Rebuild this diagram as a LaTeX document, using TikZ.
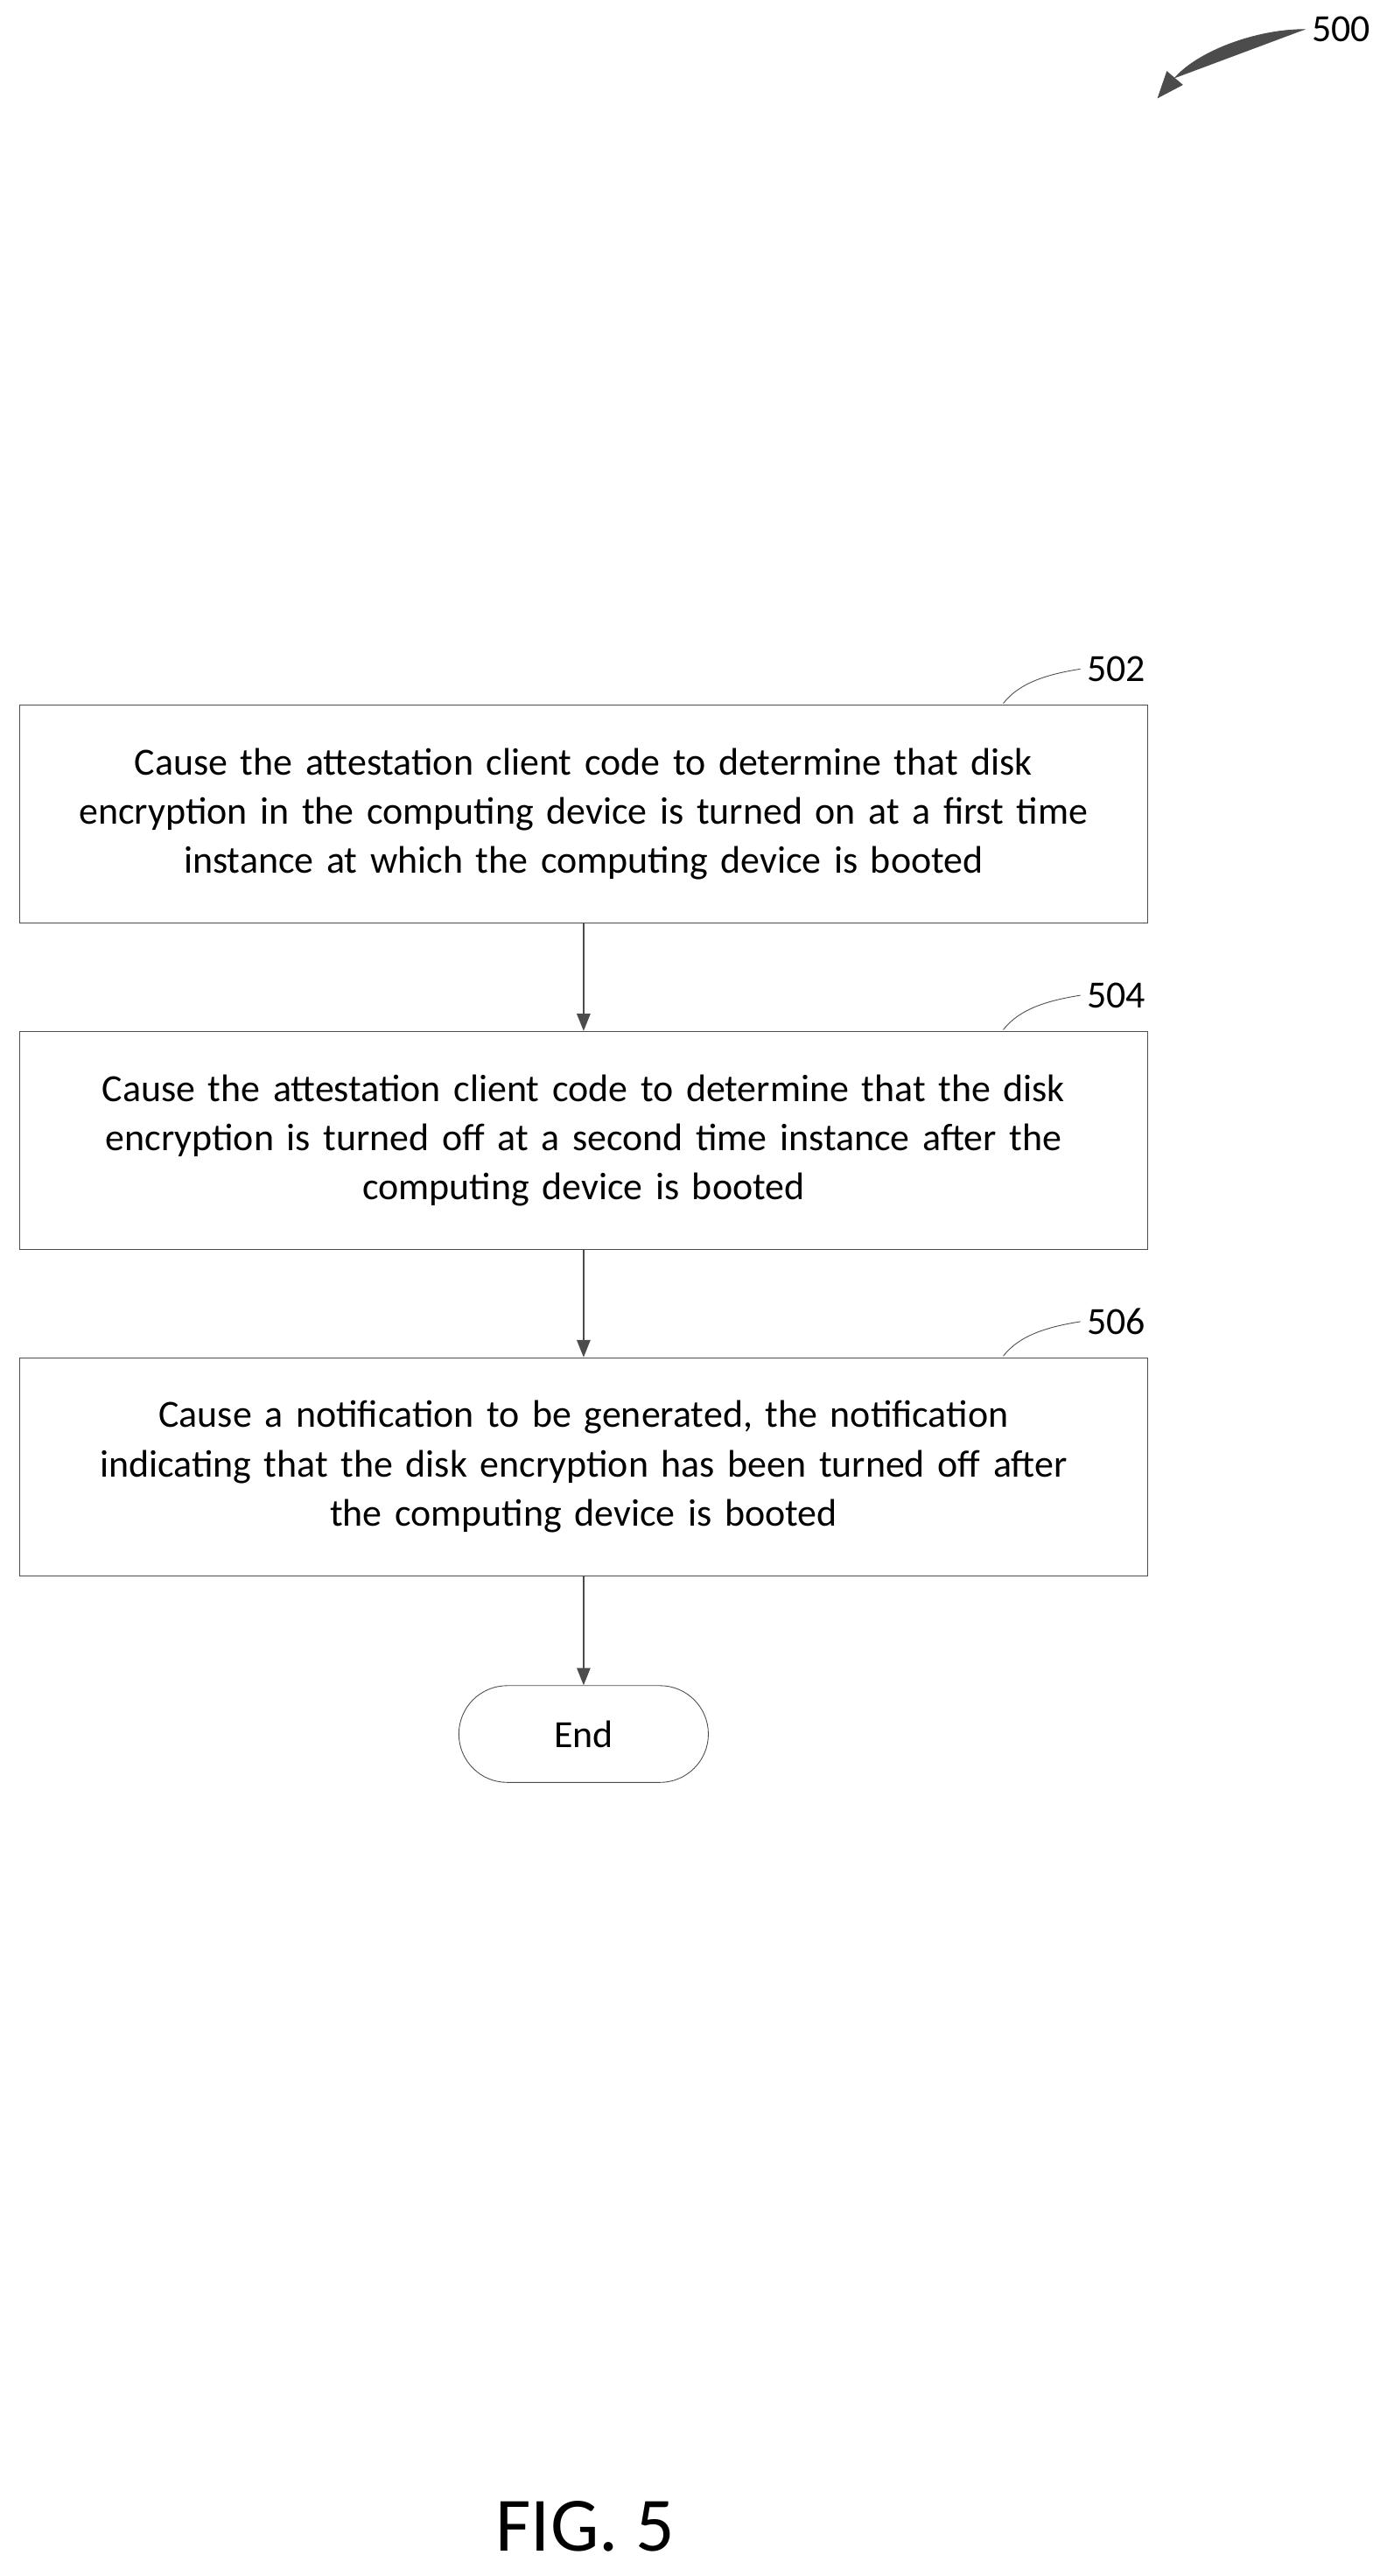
\documentclass[tikz,border=0pt]{standalone}
\usepackage{fontspec}
\setmainfont{Carlito}
\usetikzlibrary{positioning,arrows.meta,shapes.misc}
\tikzset{
  stepbox/.style={draw=black!70,thin,minimum width=20.64cm,minimum height=3.99cm,
    align=center,text width=20cm,font=\fontsize{20}{25.6}\selectfont},
  term/.style={draw=black!70,thin,rounded rectangle,minimum width=4.8cm,minimum height=1.77cm,
    font=\fontsize{20}{25.6}\selectfont},
  flow/.style={-{Triangle[length=9pt,width=7pt]},draw=black!70,thick},
  tag/.style={font=\fontsize{20}{24}\selectfont},
  lead/.style={draw=black!70,thin}
}
\begin{document}
\begin{tikzpicture}[x=0.03cm,y=-0.03cm]
\useasboundingbox (0,0) rectangle (850,1571);
\node[stepbox] (s502) at (356,496.5) {Cause the attestation client code to determine that disk\\encryption in the computing device is turned on at a first time\\instance at which the computing device is booted};
\node[stepbox] (s504) at (356,695.5) {Cause the attestation client code to determine that the disk\\encryption is turned off at a second time instance after the\\computing device is booted};
\node[stepbox] (s506) at (356,894.5) {Cause a notification to be generated, the notification\\indicating that the disk encryption has been turned off after\\the computing device is booted};
\node[term] (end) at (356,1057.5) {End};
\draw[flow] (s502) -- (s504);
\draw[flow] (s504) -- (s506);
\draw[flow] (s506) -- (end);
% step labels
\foreach \n/\y in {502/408,504/607,506/806}{
  \node[tag] (l\n) at (681,\y) {\n};
  \draw[lead] (612,\y+21) .. controls (622,\y+8) and (640,\y+3) .. (l\n.west);
}
% figure number
\node[tag] (f500) at (818,18) {500};
\coordinate (a500) at (706,60);
\draw[-{Triangle[length=14pt,width=11pt]},draw=black!70,fill=black!70,thin] (f500.west) .. controls (765,18) and (730,32) .. (a500);
\node[font=\fontsize{40}{48}\selectfont] (fig) at (357,1541) {FIG. 5};
\end{tikzpicture}
\end{document}
